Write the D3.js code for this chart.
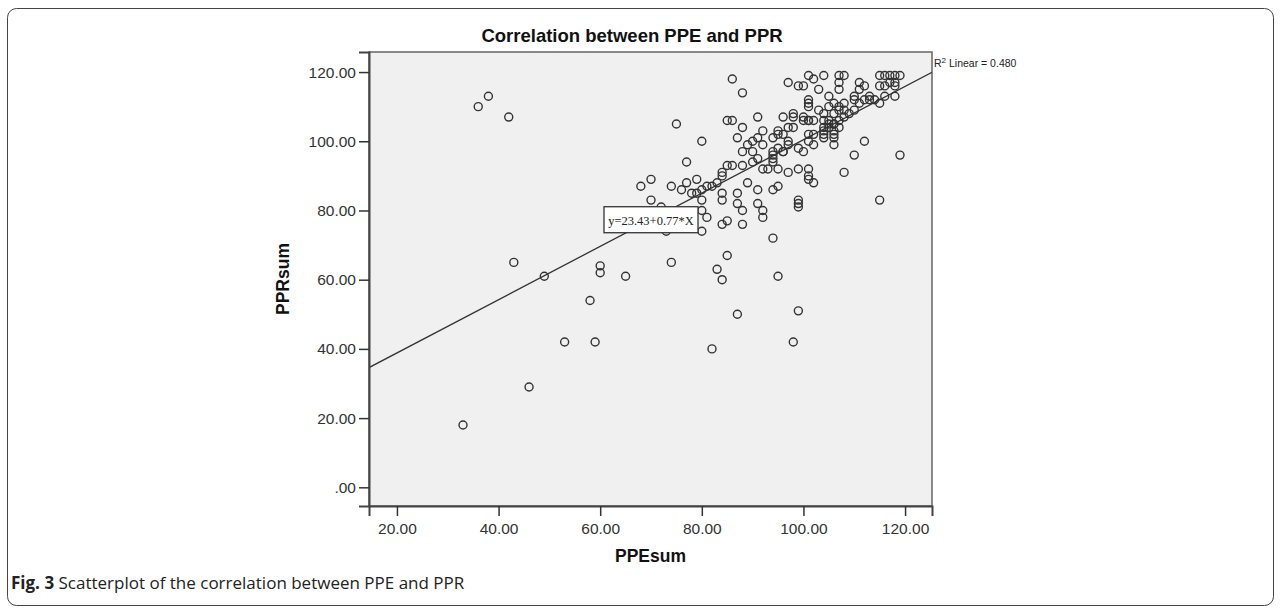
<!DOCTYPE html>
<html lang="en">
<head>
  <meta charset="UTF-8">
  <title>Correlation between PPE and PPR</title>
  <style>
    html, body {
      margin: 0;
      overflow: hidden;
      width: 100%;
      height: 100%;
      background: white;
    }
    svg {
      position: absolute;
      top: 0;
      left: 0;
    }
  </style>
</head>
<body>
  <svg width="1281" height="613"></svg>
</body>
<script src="https://d3js.org/d3.v7.min.js"></script>
<script type="text/javascript">
  const ppeSum = [
    33, 46, 36, 38, 42, 43, 49, 53, 58, 59, 60, 60, 65, 74, 75, 68, 70, 70, 72, 73,
    77, 77, 79, 79, 80, 81, 82, 83, 80, 80, 80, 81, 80, 82, 83, 84, 85, 87, 95, 98,
    99, 94, 84, 85, 87, 88, 88, 91, 92, 92, 99, 99, 99, 84, 84, 87, 89, 91, 94, 95,
    84, 84, 85, 86, 88, 92, 93, 95, 97, 99, 101, 101, 108, 101, 102, 115, 119, 110, 112, 88,
    90, 94, 95, 96, 94, 94, 99, 100, 106, 101, 102, 97, 97, 94, 95, 89, 90, 91, 92, 87,
    88, 92, 95, 96, 97, 98, 101, 102, 104, 105, 106, 107, 104, 106, 104, 105, 106, 104, 106, 85,
    86, 91, 96, 98, 98, 100, 101, 102, 88, 86, 97, 99, 100, 101, 102, 104, 103, 107, 108, 107,
    107, 111, 112, 111, 115, 116, 117, 118, 119, 117, 118, 115, 116, 118, 118, 101, 101, 101, 105, 106,
    107, 108, 110, 110, 111, 112, 113, 114, 115, 103, 105, 106, 107, 108, 109, 110, 100, 101, 104, 104,
    105, 106, 107, 108, 113, 116, 91, 94, 96, 76, 78, 74, 90
  ]
  const pprSum = [
    18, 29, 110, 113, 107, 65, 61, 42, 54, 42, 64, 62, 61, 65, 105, 87, 89, 83, 81, 74,
    94, 88, 89, 85, 86, 87, 87, 88, 100, 83, 80, 78, 74, 40, 63, 60, 67, 50, 61, 42,
    51, 72, 76, 77, 82, 80, 76, 82, 80, 78, 83, 81, 82, 85, 83, 85, 88, 86, 86, 87,
    91, 90, 93, 93, 93, 92, 92, 92, 91, 92, 92, 90, 91, 89, 88, 83, 96, 96, 100, 97,
    97, 97, 98, 97, 95, 94, 98, 97, 99, 100, 99, 99, 100, 101, 102, 99, 100, 101, 99, 101,
    104, 103, 103, 102, 104, 104, 102, 102, 104, 105, 105, 104, 102, 102, 103, 104, 103, 101, 101, 106,
    106, 107, 107, 108, 107, 107, 106, 106, 114, 118, 117, 116, 116, 119, 118, 119, 115, 119, 119, 117,
    115, 117, 116, 115, 119, 119, 119, 119, 119, 117, 117, 116, 116, 116, 113, 112, 111, 110, 113, 111,
    110, 111, 113, 112, 111, 112, 112, 112, 111, 109, 110, 108, 109, 109, 108, 109, 106, 106, 108, 106,
    106, 105, 106, 107, 113, 113, 95, 96, 97, 86, 85, 87, 94
  ]

  const xTicks = [20, 40, 60, 80, 100, 120]
  const yTicks = [0, 20, 40, 60, 80, 100, 120]

  // fitted line and r squared shown on the chart
  const intercept = 23.43
  const slope = 0.77
  const rSquared = 0.480

  const svg = d3.select('svg')

  // outer figure frame
  svg.append('rect')
    .attr('x', 7.5)
    .attr('y', 8.5)
    .attr('width', 1266)
    .attr('height', 597)
    .attr('rx', 9)
    .attr('fill', 'none')
    .attr('stroke', '#444')
    .attr('stroke-width', 1)

  const plot = { left: 369, right: 932, top: 52, bottom: 506 }

  const x = d3.scaleLinear().domain([14.5, 125.3]).range([plot.left, plot.right])
  const y = d3.scaleLinear().domain([-5.4, 125.8]).range([plot.bottom, plot.top])

  // plot background
  svg.append('rect')
    .attr('x', plot.left)
    .attr('y', plot.top)
    .attr('width', plot.right - plot.left)
    .attr('height', plot.bottom - plot.top)
    .attr('fill', '#f0f0f0')
    .attr('stroke', '#666')
    .attr('stroke-width', 1.5)

  svg.append('clipPath')
    .attr('id', 'clip')
    .append('rect')
    .attr('x', plot.left)
    .attr('y', plot.top)
    .attr('width', plot.right - plot.left)
    .attr('height', plot.bottom - plot.top)

  // regression line
  const x0 = x.domain()[0], x1 = x.domain()[1]
  svg.append('line')
    .attr('clip-path', 'url(#clip)')
    .attr('x1', x(x0))
    .attr('y1', y(intercept + slope * x0))
    .attr('x2', x(x1))
    .attr('y2', y(intercept + slope * x1))
    .attr('stroke', '#333')
    .attr('stroke-width', 1.3)

  // points
  const points = ppeSum.map((v, i) => ({ ppe: v, ppr: pprSum[i] }))
  svg.append('g')
    .selectAll('circle')
    .data(points)
    .enter()
    .append('circle')
    .attr('cx', d => x(d.ppe))
    .attr('cy', d => y(d.ppr))
    .attr('r', 4)
    .attr('fill', 'none')
    .attr('stroke', '#333')
    .attr('stroke-width', 1.4)

  // axes
  const fmt = d => d === 0 ? '.00' : d.toFixed(2)

  const yAxis = svg.append('g')
    .attr('transform', `translate(${plot.left},0)`)
    .call(d3.axisLeft(y).tickValues(yTicks).tickFormat(fmt).tickSize(10).tickPadding(3))
  const xAxis = svg.append('g')
    .attr('transform', `translate(0,${plot.bottom})`)
    .call(d3.axisBottom(x).tickValues(xTicks).tickFormat(fmt).tickSize(10).tickPadding(7))

  ;[yAxis, xAxis].forEach(g => {
    g.select('.domain').attr('stroke', '#444').attr('stroke-width', 2)
    g.selectAll('.tick line').attr('stroke', '#333').attr('stroke-width', 1.5)
    g.selectAll('.tick text')
      .attr('font-family', '"Liberation Sans", Arial, sans-serif')
      .attr('font-size', 15.5)
      .attr('fill', '#333')
  })

  // equation label on the fit line
  const eqX = 70
  const eqCx = x(eqX), eqCy = y(intercept + slope * eqX)
  svg.append('rect')
    .attr('x', eqCx - 47)
    .attr('y', eqCy - 13)
    .attr('width', 94)
    .attr('height', 26)
    .attr('fill', 'white')
    .attr('stroke', '#333')
    .attr('stroke-width', 1.3)
  svg.append('text')
    .attr('x', eqCx)
    .attr('y', eqCy + 5)
    .attr('text-anchor', 'middle')
    .attr('font-family', '"Liberation Serif", "Times New Roman", serif')
    .attr('font-size', 12.5)
    .attr('fill', '#222')
    .text(`y=${intercept.toFixed(2)}+${slope.toFixed(2)}*X`)

  // r squared label
  const r2 = svg.append('text')
    .attr('x', plot.right + 2)
    .attr('y', 67)
    .attr('font-family', '"Liberation Sans", Arial, sans-serif')
    .attr('font-size', 10.5)
    .attr('fill', '#222')
  r2.append('tspan').text('R')
  r2.append('tspan').attr('dy', -4).attr('font-size', 8).text('2')
  r2.append('tspan').attr('dy', 4).text(` Linear = ${rSquared.toFixed(3)}`)

  // titles
  svg.append('text')
    .attr('x', 632)
    .attr('y', 42)
    .attr('text-anchor', 'middle')
    .attr('font-family', '"Liberation Sans", Arial, sans-serif')
    .attr('font-weight', 'bold')
    .attr('font-size', 18.5)
    .attr('fill', '#111')
    .text('Correlation between PPE and PPR')

  svg.append('text')
    .attr('x', (plot.left + plot.right) / 2)
    .attr('y', 562)
    .attr('text-anchor', 'middle')
    .attr('font-family', '"Liberation Sans", Arial, sans-serif')
    .attr('font-weight', 'bold')
    .attr('font-size', 17.5)
    .attr('fill', '#111')
    .text('PPEsum')

  svg.append('text')
    .attr('transform', `translate(289,${(plot.top + plot.bottom) / 2}) rotate(-90)`)
    .attr('text-anchor', 'middle')
    .attr('font-family', '"Liberation Sans", Arial, sans-serif')
    .attr('font-weight', 'bold')
    .attr('font-size', 17.5)
    .attr('fill', '#111')
    .text('PPRsum')

  // figure caption
  const cap = svg.append('text')
    .attr('x', 11)
    .attr('y', 589)
    .attr('font-family', '"Open Sans", "Noto Sans", sans-serif')
    .attr('font-size', 17)
    .attr('fill', '#222')
  cap.append('tspan').attr('font-weight', 'bold').text('Fig. 3')
  cap.append('tspan').text(' Scatterplot of the correlation between PPE and PPR')
</script>
</html>
